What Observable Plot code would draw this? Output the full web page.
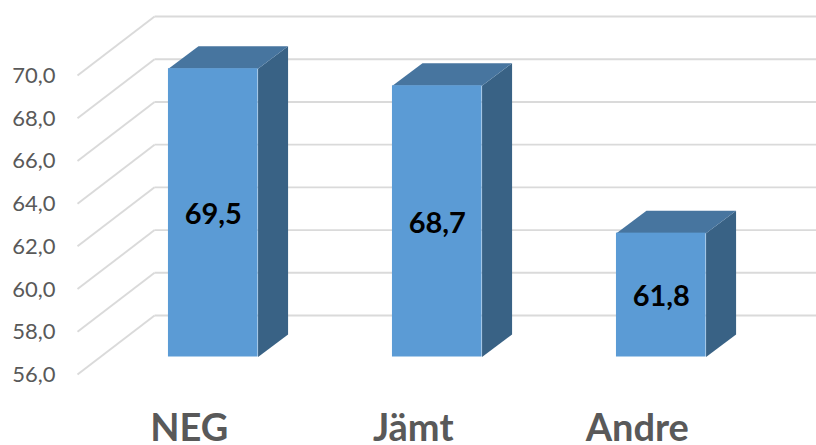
<!DOCTYPE html>
<html>
<head>
<meta charset="utf-8">
<style>html,body{margin:0;padding:0;background:#fff}svg{display:block}</style>
<script src="https://cdn.jsdelivr.net/npm/d3@7"></script>
<script src="https://cdn.jsdelivr.net/npm/@observablehq/plot@0.6"></script>
</head>
<body>
<div id="chart"></div>
<script>
const categories = ["NEG", "Jämt", "Andre"];
const values = [69.5, 68.7, 61.8];
const yTicks = [56, 58, 60, 62, 64, 66, 68, 70];

// Depth of the pseudo-3D box, in scale units
const barHalf = 0.2, barDepthX = 0.134, barDepthY = 1.053;
const wallFrontX = -0.606, wallBackX = -0.262, wallEndX = 3;
const wallFrontY = -0.82, wallBackY = 1.943;
const base = yTicks[0];

const bars = categories.map((name, i) => ({name, i, v: values[i]}));
const comma = v => v.toFixed(1).replace(".", ",");

const topFace = bars.flatMap(b => [
  {id: b.i, x: b.i - barHalf, y: b.v},
  {id: b.i, x: b.i + barHalf, y: b.v},
  {id: b.i, x: b.i + barHalf + barDepthX, y: b.v + barDepthY},
  {id: b.i, x: b.i - barHalf + barDepthX, y: b.v + barDepthY}
]);
const sideFace = bars.flatMap(b => [
  {id: b.i, x: b.i + barHalf, y: base},
  {id: b.i, x: b.i + barHalf, y: b.v},
  {id: b.i, x: b.i + barHalf + barDepthX, y: b.v + barDepthY},
  {id: b.i, x: b.i + barHalf + barDepthX, y: base + barDepthY}
]);
const grid = {stroke: "#dadada", strokeWidth: 1.9};

const chart = Plot.plot({
  width: 816,
  height: 445,
  marginLeft: 56,
  marginRight: 0,
  marginTop: 0,
  marginBottom: 31,
  style: {background: "#fff", fontFamily: "Lato, sans-serif"},
  x: {domain: [-0.6998, 2.693], range: [56, 816]},
  y: {domain: [56, 70], range: [356.5, 57.5]},
  marks: [
    // floor-to-wall gridlines: the slanted side wall, then the back wall
    Plot.link(yTicks, {x1: wallFrontX, y1: d => d + wallFrontY, x2: wallBackX, y2: d => d + wallBackY, ...grid}),
    Plot.link(yTicks, {x1: wallBackX, y1: d => d + wallBackY, x2: wallEndX, y2: d => d + wallBackY, ...grid}),
    // box faces
    Plot.line(sideFace, {x: "x", y: "y", z: "id", fill: "#396285", stroke: "none"}),
    Plot.line(topFace, {x: "x", y: "y", z: "id", fill: "#47759f", stroke: "none"}),
    Plot.rect(bars, {x1: d => d.i - barHalf, x2: d => d.i + barHalf, y1: base, y2: "v", fill: "#5b9bd5"}),
    Plot.text(bars, {
      x: "i", y: d => (d.v + base) / 2, text: d => comma(d.v),
      fontSize: 29, fontWeight: 700, fill: "#000", dy: 2
    }),
    Plot.axisY({
      ticks: yTicks, tickFormat: comma, tickSize: 0, tickPadding: 1, dy: 18,
      label: null, fontSize: 22, color: "#595959"
    }),
    Plot.axisX({
      ticks: [0, 1, 2], tickFormat: i => categories[i], tickSize: 0, tickPadding: 0, dx: -24,
      label: null, fontSize: 38, fontWeight: 700, color: "#595959"
    })
  ]
});
document.getElementById("chart").append(chart);
</script>
</body>
</html>
